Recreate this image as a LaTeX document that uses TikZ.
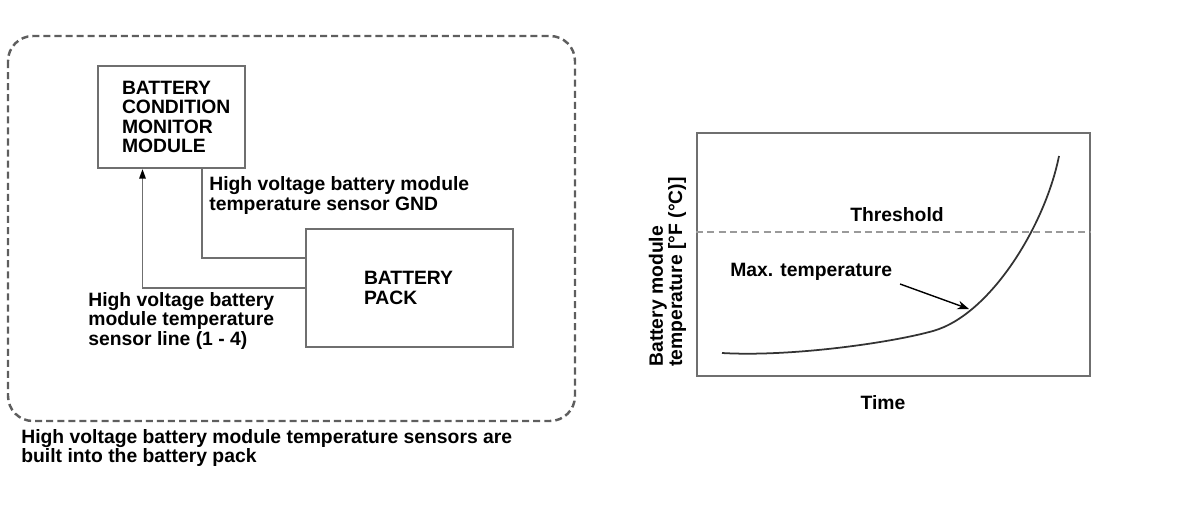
\documentclass[tikz,border=0pt]{standalone}
\usepackage{fontspec}
\setmainfont{Liberation Sans}
\usetikzlibrary{arrows.meta,positioning}
\definecolor{boxgray}{HTML}{6F6F6F}
\definecolor{dashgray}{HTML}{5E5E5E}
\definecolor{thrgray}{HTML}{9A9A9A}
\definecolor{curvegray}{HTML}{333333}

\begin{document}
\begin{tikzpicture}[
    x=0.02cm, y=-0.02cm,
    >=Stealth,
    font=\bfseries\fontsize{11}{11}\selectfont,
    block/.style={draw=boxgray, line width=1.1pt, align=left, inner ysep=0pt},
    lbl/.style={align=left, inner sep=0pt, anchor=west},
    wire/.style={draw=boxgray, line width=1.1pt},
    frame/.style={draw=dashgray, line width=1.4pt, dash pattern=on 4pt off 2.3pt, rounded corners=0.5cm},
    thr/.style={draw=thrgray, line width=1.1pt, dash pattern=on 4pt off 2.4pt},
    curve/.style={draw=curvegray, line width=1pt}
  ]
    \useasboundingbox (0,0) rectangle (1200,517);

    % left part: module and pack
    \draw[frame] (8,36) rectangle (575,421);
    \node[block, minimum width=2.94cm, minimum height=2.04cm, text width=1.98cm, inner xsep=0.48cm] (bcm) at (171.5,117) {BATTERY\\CONDITION\\MONITOR\\MODULE};
    \node[block, minimum width=4.14cm, minimum height=2.36cm, text width=1.82cm, inner xsep=1.16cm] (pack) at (409.5,288) {BATTERY\\PACK};
    \coordinate (gndtap) at (202,258);
    \coordinate (senstap) at (142.5,288);
    \draw[wire] (bcm.south -| gndtap) |- (pack.west |- gndtap);
    \draw[wire, -{Triangle[length=5.5pt, width=3.6pt, color=black]}] (pack.west |- senstap) -| (bcm.south -| senstap);
    \node[lbl] (gndlbl) at (209,195.5) {High voltage battery module\\temperature sensor GND};
    \node[lbl] (senslbl) at (88,321) {High voltage battery\\module temperature\\sensor line (1 - 4)};
    \node[lbl, font=\bfseries\fontsize{11}{10.4}\selectfont] (caption) at (21,448) {High voltage battery module temperature sensors are\\built into the battery pack};

    % right part: temperature graph
    \node[block, minimum width=7.86cm, minimum height=4.86cm] (graph) at (893.5,254.5) {};
    \coordinate (thrlvl) at (0,232);
    \draw[thr] (graph.west |- thrlvl) -- (graph.east |- thrlvl);
    \node (thrlbl) at (897,215) {Threshold};
    \node[lbl] (maxlbl) at (730,272) {Max. temperature};
    \node (timelbl) at (883,403) {Time};
    \node[lbl, rotate=90] (ylbl) at (667.5,367) {Battery module\\temperature [°F (°C)]};
    \draw[curve] (722,353) .. controls (790,357) and (890,343) .. (933,331)
                 .. controls (990,315) and (1045,226) .. (1059,156);
    \coordinate (maxfrom) at (900,284);
    \coordinate (maxto) at (969,309);
    \draw[->, line width=0.8pt] (maxfrom) -- (maxto);
  \end{tikzpicture}
\end{document}
